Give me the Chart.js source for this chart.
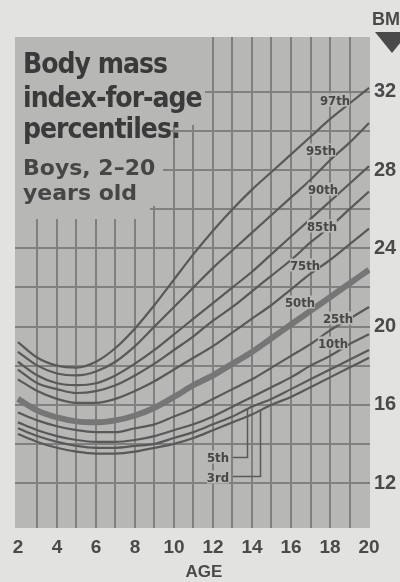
<!DOCTYPE html>
<html>
<head>
<meta charset="utf-8">
<script src="https://cdn.jsdelivr.net/npm/chart.js@4.4.1/dist/chart.umd.min.js"></script>
<style>
  html, body { margin: 0; padding: 0; background: #e2e2e0; }
  #wrap { position: relative; width: 400px; height: 582px; overflow: hidden; }
  #chart { position: absolute; left: 0; top: 0; }
  .t { position: absolute; left: 23px; white-space: nowrap; line-height: 1; font-weight: bold; }
  .big { font-family: "DejaVu Sans Condensed", "DejaVu Sans", sans-serif; font-size: 28px; letter-spacing: -1px; color: #3a3a3a; }
  .sub { font-family: "DejaVu Sans", sans-serif; font-size: 22px; color: #464646; }
  .pl { position: absolute; transform: translate(-50%, -50%); font-family: "DejaVu Sans Condensed", "DejaVu Sans", sans-serif;
        font-weight: bold; font-size: 13px; line-height: 1; color: #474747; background: #b7b7b5; white-space: nowrap; }
  #bmi { position: absolute; left: 372px; top: 9px; font-family: "Liberation Sans", sans-serif; font-weight: bold; font-size: 18px; color: #4a4a4a; white-space: nowrap; }
  #tri { position: absolute; left: 375px; top: 32px; width: 0; height: 0;
         border-left: 17px solid transparent; border-right: 17px solid transparent; border-top: 21px solid #4a4a4a; }
  #age { position: absolute; left: 204px; top: 572px; transform: translate(-50%, -50%); font-family: "Liberation Sans", sans-serif;
         font-weight: bold; font-size: 17px; color: #4a4a4a; }
</style>
</head>
<body>
<div id="wrap">
  <canvas id="chart" width="400" height="582"></canvas>
  <div class="t big" style="top:50px">Body mass</div>
  <div class="t big" style="top:84px">index-for-age</div>
  <div class="t big" style="top:115px">percentiles:</div>
  <div class="t sub" style="top:157px">Boys, 2–20</div>
  <div class="t sub" style="top:182px">years old</div>
  <div id="bmi">BMI</div>
  <div id="tri"></div>
  <div id="age">AGE</div>
  <span class="pl" style="left:335px;top:100px">97th</span>
  <span class="pl" style="left:321px;top:150px">95th</span>
  <span class="pl" style="left:323px;top:189px">90th</span>
  <span class="pl" style="left:322px;top:226px">85th</span>
  <span class="pl" style="left:305px;top:265px">75th</span>
  <span class="pl" style="left:300px;top:302px">50th</span>
  <span class="pl" style="left:338px;top:318px">25th</span>
  <span class="pl" style="left:333px;top:343px">10th</span>
  <span class="pl" style="left:218px;top:457px">5th</span>
  <span class="pl" style="left:218px;top:477px">3rd</span>
</div>
<script>
const ages = [2, 3, 4, 5, 6, 7, 8, 9, 10, 11, 12, 13, 14, 15, 16, 17, 18, 19, 20];

const p97 = [19.2, 18.4, 18.0, 17.9, 18.2, 18.9, 19.9, 21.1, 22.4, 23.7, 24.9, 26.0, 27.0, 27.9, 28.8, 29.7, 30.6, 31.4, 32.2];
const p95 = [18.7, 18.0, 17.6, 17.5, 17.7, 18.2, 19.0, 20.0, 21.0, 22.0, 23.0, 23.9, 24.8, 25.7, 26.6, 27.5, 28.5, 29.4, 30.4];
const p90 = [18.2, 17.5, 17.1, 17.0, 17.1, 17.5, 18.1, 18.8, 19.6, 20.4, 21.2, 22.0, 22.8, 23.7, 24.6, 25.5, 26.4, 27.3, 28.2];
const p85 = [17.8, 17.1, 16.8, 16.6, 16.7, 17.0, 17.5, 18.1, 18.8, 19.5, 20.3, 21.0, 21.8, 22.6, 23.4, 24.3, 25.1, 26.0, 26.9];
const p75 = [17.3, 16.7, 16.3, 16.1, 16.1, 16.3, 16.7, 17.2, 17.8, 18.4, 19.0, 19.7, 20.4, 21.1, 21.9, 22.7, 23.4, 24.2, 25.0];
const p50 = [16.3, 15.7, 15.35, 15.15, 15.1, 15.2, 15.45, 15.85, 16.4, 17.0, 17.5, 18.1, 18.7, 19.4, 20.1, 20.8, 21.5, 22.2, 22.9];
const p25 = [15.6, 15.2, 14.9, 14.7, 14.6, 14.6, 14.8, 15.0, 15.4, 15.8, 16.3, 16.8, 17.3, 17.9, 18.5, 19.1, 19.8, 20.4, 21.0];
const p10 = [15.1, 14.7, 14.4, 14.2, 14.1, 14.1, 14.2, 14.4, 14.7, 15.0, 15.4, 15.9, 16.4, 16.9, 17.4, 18.0, 18.5, 19.1, 19.6];
const p5 = [14.8, 14.4, 14.1, 13.9, 13.8, 13.8, 13.9, 14.0, 14.3, 14.6, 15.0, 15.4, 15.9, 16.3, 16.8, 17.3, 17.8, 18.3, 18.8];
const p3 = [14.5, 14.1, 13.8, 13.6, 13.5, 13.5, 13.6, 13.8, 14.0, 14.3, 14.7, 15.1, 15.5, 16.0, 16.4, 16.9, 17.4, 17.9, 18.4];

const xLabels = [2, 4, 6, 8, 10, 12, 14, 16, 18, 20];
const yGrid = [12, 14, 16, 18, 20, 22, 24, 26, 28, 30, 32];
const yLabels = [12, 16, 20, 24, 28, 32];

const series = [p97, p95, p90, p85, p75, p50, p25, p10, p5, p3];

const lineColor = "#595959";
const plotBg = "#b7b7b5";
const gridColor = "#808080";

// connectors from the "5th" / "3rd" labels up to their curves
const connectors = [
  { values: p5, age: 13.75, fromX: 233, labelY: 457 },
  { values: p3, age: 14.4, fromX: 233, labelY: 476 },
];

function valueAt(values, age) {
  const i = Math.min(Math.floor(age - ages[0]), ages.length - 2);
  const t = age - ages[i];
  return values[i] + (values[i + 1] - values[i]) * t;
}

const plotPlugin = {
  id: "plotPlugin",
  beforeDraw(chart) {
    const { ctx, chartArea: a } = chart;
    ctx.save();
    ctx.fillStyle = plotBg;
    ctx.fillRect(a.left, a.top, a.right - a.left, a.bottom - a.top);
    ctx.restore();
  },
  beforeDatasetsDraw(chart) {
    // the title block hides the grid in the top-left corner
    const { ctx, chartArea: a } = chart;
    ctx.save();
    ctx.fillStyle = plotBg;
    ctx.fillRect(a.left, a.top, 205 - a.left, 125 - a.top);
    ctx.fillRect(a.left, 125, 163 - a.left, 81);
    ctx.fillRect(a.left, 206, 150 - a.left, 13);
    ctx.restore();
  },
  afterDatasetsDraw(chart) {
    const { ctx } = chart;
    const xs = chart.scales.x, ys = chart.scales.y;
    ctx.save();
    ctx.strokeStyle = lineColor;
    ctx.lineWidth = 1.5;
    for (const c of connectors) {
      const px = Math.round(xs.getPixelForValue(c.age)) + 0.5;
      const py = ys.getPixelForValue(valueAt(c.values, c.age));
      ctx.beginPath();
      ctx.moveTo(c.fromX, c.labelY + 0.5);
      ctx.lineTo(px, c.labelY + 0.5);
      ctx.lineTo(px, py);
      ctx.stroke();
    }
    ctx.restore();
  },
};

new Chart(document.getElementById("chart"), {
  type: "line",
  data: {
    datasets: series.map((vals, k) => ({
      data: ages.map((a, i) => ({ x: a, y: vals[i] })),
      borderColor: k === 5 ? "#767676" : lineColor,
      borderWidth: k === 5 ? 6 : 2.2,
      pointRadius: 0,
      cubicInterpolationMode: "monotone",
      fill: false,
    })),
  },
  options: {
    responsive: false,
    animation: false,
    events: [],
    layout: { padding: { left: 15, top: 37, right: 0, bottom: 0 } },
    plugins: { legend: { display: false }, tooltip: { enabled: false } },
    scales: {
      x: {
        type: "linear",
        min: 1.85,
        max: 20.05,
        afterBuildTicks: (s) => { s.ticks = ages.map((v) => ({ value: v })); },
        afterFit: (s) => { s.height = 54; },
        border: { display: false },
        grid: {
          drawTicks: false,
          lineWidth: 2,
          color: (c) => (c.tick && (c.tick.value === 2 || c.tick.value === 20) ? "rgba(0,0,0,0)" : gridColor),
        },
        ticks: {
          autoSkip: false,
          maxRotation: 0,
          padding: 8,
          color: "#4a4a4a",
          font: { family: "Liberation Sans", size: 19, weight: "bold" },
          callback: (v) => (xLabels.includes(v) ? String(v) : ""),
        },
      },
      y: {
        position: "right",
        min: 9.7,
        max: 34.8,
        afterBuildTicks: (s) => { s.ticks = yGrid.map((v) => ({ value: v })); },
        afterFit: (s) => { s.width = 30; },
        border: { display: false },
        grid: { drawTicks: false, lineWidth: 2, color: gridColor },
        ticks: {
          autoSkip: false,
          padding: 4,
          color: "#4a4a4a",
          font: { family: "Liberation Sans", size: 20, weight: "bold" },
          callback: (v) => (yLabels.includes(v) ? String(v) : ""),
        },
      },
    },
  },
  plugins: [plotPlugin],
});
</script>
</body>
</html>
